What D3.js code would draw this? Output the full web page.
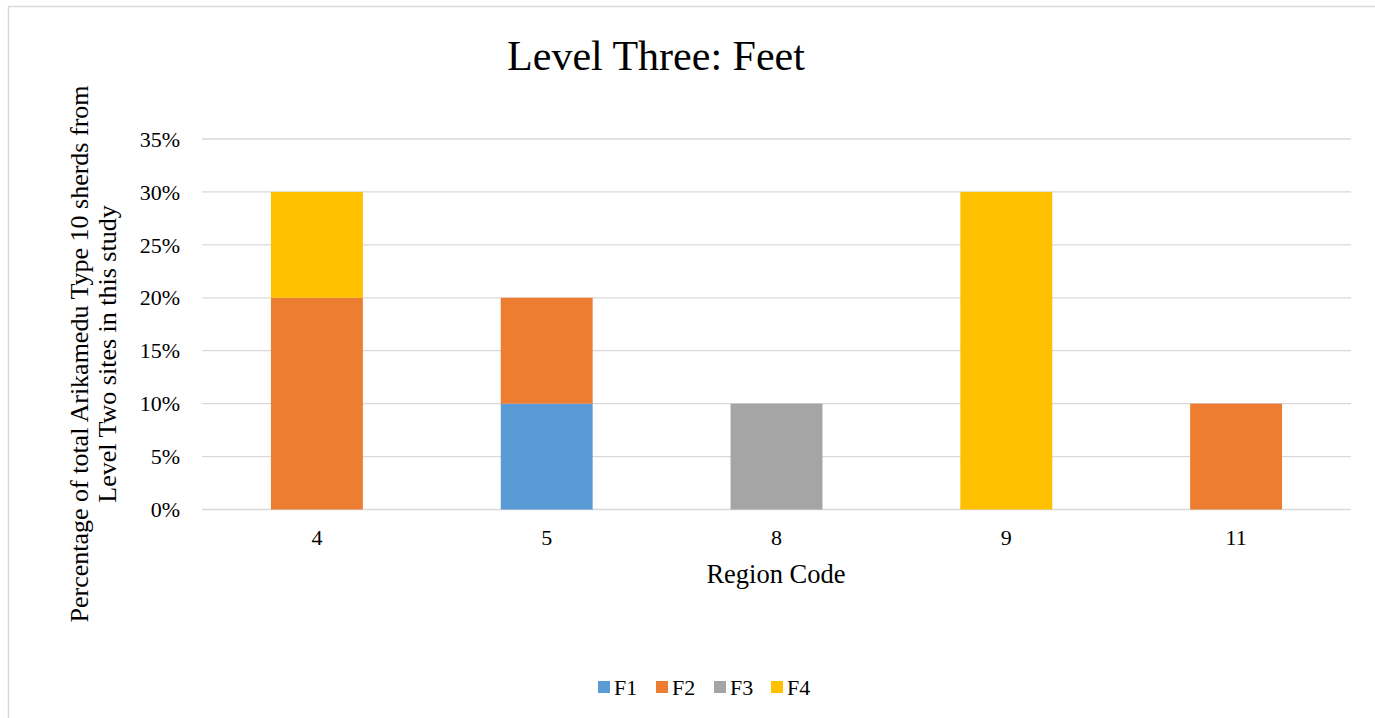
<!DOCTYPE html>
<html>
<head>
<meta charset="utf-8">
<script src="https://cdn.jsdelivr.net/npm/d3@7"></script>
<style>
  body { margin: 0; background: #fff; }
  svg text { font-family: "Liberation Serif", "Times New Roman", serif; fill: #000; }
</style>
</head>
<body>
<div id="chart"></div>
<script>
// data
var regions = ["4", "5", "8", "9", "11"];
var seriesNames = ["F1", "F2", "F3", "F4"];
var f1 = [0, 0.10, 0, 0, 0];
var f2 = [0.20, 0.10, 0, 0, 0.10];
var f3 = [0, 0, 0.10, 0, 0];
var f4 = [0.10, 0, 0, 0.30, 0];
var colors = ["#5b9bd5", "#ed7d31", "#a5a5a5", "#ffc000"];
var yTicks = [0, 0.05, 0.10, 0.15, 0.20, 0.25, 0.30, 0.35];

var width = 1375, height = 718;
var svg = d3.select("#chart").append("svg")
  .attr("width", width).attr("height", height);

// outer frame
svg.append("rect")
  .attr("x", 8.5).attr("y", 6.5)
  .attr("width", 1400).attr("height", 800)
  .attr("fill", "none").attr("stroke", "#d9d9d9").attr("stroke-width", 1.5);

var plot = {left: 202, right: 1351, top: 139, bottom: 509.5};

var x = d3.scaleBand().domain(regions)
  .range([plot.left, plot.right]).paddingInner(0.6).paddingOuter(0.3);
var y = d3.scaleLinear().domain([0, 0.35]).range([plot.bottom, plot.top]);

// gridlines
svg.append("g").selectAll("line").data(yTicks).enter().append("line")
  .attr("x1", plot.left).attr("x2", plot.right)
  .attr("y1", function(d){ return y(d); }).attr("y2", function(d){ return y(d); })
  .attr("stroke", "#d9d9d9").attr("stroke-width", 1.3);

// y tick labels
svg.append("g").selectAll("text").data(yTicks).enter().append("text")
  .attr("x", 180).attr("y", function(d){ return y(d); })
  .attr("dy", "0.35em").attr("text-anchor", "end")
  .style("font-size", "22px")
  .text(function(d){ return d3.format(".0%")(d); });

// stacked bars
var table = regions.map(function(r, i){
  return {region: r, F1: f1[i], F2: f2[i], F3: f3[i], F4: f4[i]};
});
var stacked = d3.stack().keys(seriesNames)(table);

svg.append("g").selectAll("g").data(stacked).enter().append("g")
  .attr("fill", function(d, i){ return colors[i]; })
  .selectAll("rect").data(function(d){ return d; }).enter()
  .filter(function(d){ return d[1] - d[0] > 0; })
  .append("rect")
  .attr("x", function(d){ return x(d.data.region); })
  .attr("width", x.bandwidth())
  .attr("y", function(d){ return y(d[1]); })
  .attr("height", function(d){ return y(d[0]) - y(d[1]); });

// x tick labels
svg.append("g").selectAll("text").data(regions).enter().append("text")
  .attr("x", function(d){ return x(d) + x.bandwidth() / 2; })
  .attr("y", 545).attr("text-anchor", "middle")
  .style("font-size", "22px")
  .text(function(d){ return d; });

// title
svg.append("text")
  .attr("x", 656).attr("y", 70).attr("text-anchor", "middle")
  .style("font-size", "42px")
  .text("Level Three: Feet");

// axis titles
svg.append("text")
  .attr("x", 776).attr("y", 583).attr("text-anchor", "middle")
  .style("font-size", "26.5px")
  .text("Region Code");

var yTitle = svg.append("text")
  .attr("transform", "translate(0,354) rotate(-90)")
  .attr("text-anchor", "middle")
  .style("font-size", "26px");
yTitle.append("tspan").attr("x", 0).attr("y", 88)
  .text("Percentage of total Arikamedu Type 10 sherds from");
yTitle.append("tspan").attr("x", 0).attr("y", 116)
  .text("Level Two sites in this study");

// legend
var legendX = [598, 656, 714, 771];
var legend = svg.append("g").selectAll("g").data(seriesNames).enter().append("g")
  .attr("transform", function(d, i){ return "translate(" + legendX[i] + ",681)"; });
legend.append("rect").attr("width", 12).attr("height", 12)
  .attr("fill", function(d, i){ return colors[i]; });
legend.append("text").attr("x", 16).attr("y", 6).attr("dy", "0.35em")
  .style("font-size", "22px")
  .text(function(d){ return d; });
</script>
</body>
</html>
